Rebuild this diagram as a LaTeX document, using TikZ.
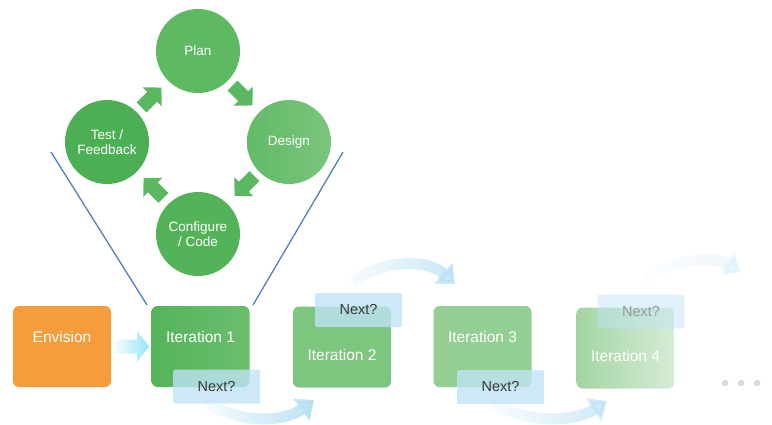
\documentclass[tikz,border=0pt]{standalone}
\usepackage{fontspec}
\setmainfont{Liberation Sans}
\usetikzlibrary{arrows.meta,calc,fadings}
\definecolor{gPlan}{HTML}{5DBA63}
\definecolor{gTest}{HTML}{4DAF53}
\definecolor{gConf}{HTML}{52B358}
\definecolor{gDesL}{HTML}{62BA66}
\definecolor{gDesR}{HTML}{7BC57D}
\definecolor{gArr}{HTML}{5BB860}
\definecolor{lineblue}{HTML}{4F81BD}
\definecolor{envor}{HTML}{F59C3C}
\definecolor{it1L}{HTML}{55B45A}
\definecolor{it1R}{HTML}{6BBE6D}
\definecolor{it2}{HTML}{7DC67F}
\definecolor{it3}{HTML}{93CE93}
\definecolor{it4L}{HTML}{A3D5A3}
\definecolor{it4R}{HTML}{D6ECD6}
\definecolor{nextblue}{HTML}{BFE4F7}
\definecolor{arrblue}{HTML}{B2DEF4}
\definecolor{dotgray}{HTML}{D3DCDF}
\tikzfading[name=tailfade, left color=transparent!92, right color=transparent!0]
\tikzset{
  circ/.style={circle, minimum size=84pt, inner sep=0pt, text=white, align=center,
    font=\fontsize{13.5}{15.5}\selectfont},
  box/.style={rectangle, rounded corners=6pt, minimum width=98pt, minimum height=81pt, inner sep=0pt},
  boxtext/.style={text=white, font=\fontsize{15.5}{18}\selectfont},
  nextbox/.style={rectangle, rounded corners=1.5pt, minimum width=87pt, minimum height=34pt, inner sep=0pt,
    fill=nextblue, fill opacity=0.78, text opacity=1, text=black!78, font=\fontsize{14.5}{17}\selectfont},
  funnel/.style={draw=lineblue, line width=1.3pt},
  curvearr/.style={draw=arrblue, line width=11pt, path fading=tailfade,
    -{Triangle[length=16pt,width=27pt]}},
  blockarr/.style={fill=gArr}
}
\newcommand{\greenarrow}[2]{%
  \fill[blockarr, shift={(#1)}, rotate=#2]
    (-14,-7) -- (1,-7) -- (1,-13.5) -- (14,0) -- (1,13.5) -- (1,7) -- (-14,7) -- cycle;}
\begin{document}
\begin{tikzpicture}[x=1pt,y=-1pt]
\useasboundingbox (0,0) rectangle (772,424);
\fill[white] (0,0) rectangle (772,424);

% funnel lines
\coordinate (fl) at (51,152);
\coordinate (fr) at (343,152);
\coordinate (fl2) at (147,305);
\coordinate (fr2) at (253,305);
\draw[funnel] (fl) -- (fl2);
\draw[funnel] (fr) -- (fr2);

% cycle circles
\node[circ, fill=gPlan] (plan) at (198,51) {Plan};
\node[circ, left color=gDesL, right color=gDesR] (design) at (289,142) {Design};
\node[circ, fill=gTest] (test) at (107,142) {Test /\\Feedback};
\node[circ, fill=gConf] (conf) at (198,234) {Configure\\/ Code};

% block arrows between circles
\greenarrow{$(test)!0.5!(plan)+(-1,1)$}{45}
\greenarrow{$(plan)!0.5!(design)+(-1,-1)$}{-45}
\greenarrow{$(design)!0.5!(conf)+(1,-2)$}{-135}
\greenarrow{$(conf)!0.5!(test)+(1,0)$}{135}

% curved arrows (behind boxes)
\coordinate (a1s) at (208,403);
\coordinate (a1e) at (314,400);
\coordinate (a2s) at (352,283);
\coordinate (a2e) at (455,284);
\coordinate (a3s) at (492,403);
\coordinate (a3e) at (607,401);
\coordinate (a4s) at (645,280);
\coordinate (a4e) at (741,272);
\begin{scope}[opacity=0.9]
\draw[curvearr] (a1s) .. controls (240,424) and (285,422) .. (a1e);
\end{scope}
\begin{scope}[opacity=0.75]
\draw[curvearr] (a2s) .. controls (378,261) and (425,257) .. (a2e);
\end{scope}
\begin{scope}[opacity=0.65]
\draw[curvearr] (a3s) .. controls (528,424) and (575,422) .. (a3e);
\end{scope}
\begin{scope}[opacity=0.25]
\draw[curvearr] (a4s) .. controls (670,260) and (712,255) .. (a4e);
\end{scope}

% boxes
\node[box, fill=envor] (env) at (62,346.5) {};
\node[boxtext] at ($(env.center)+(0,-9.5)$) {Envision};

\node[box, left color=it1L, right color=it1R] (it1) at (200.5,346.5) {};
\node[boxtext] at ($(it1.center)+(0,-9.5)$) {Iteration 1};

\node[box, fill=it2] (it2) at (342,347) {};
\node[boxtext] at ($(it2.center)+(0,8)$) {Iteration 2};

\node[box, fill=it3] (it3) at (482.5,346.5) {};
\node[boxtext] at ($(it3.center)+(0,-9.5)$) {Iteration 3};

\node[box, left color=it4L, right color=it4R] (it4) at (625.5,348) {};
\node[boxtext] at ($(it4.center)+(0,8)$) {Iteration 4};

% Envision -> Iteration 1 arrow
\shade[left color=white, right color=arrblue!85!cyan]
  (env.east) ++(2,-7) -- ++(24,0) -- ++(0,-8) -- ($(it1.west)+(-2,0)$)
  -- ($(env.east)+(26,15)$) -- ++(0,-8) -- ($(env.east)+(2,7)$) -- cycle;

% Next? boxes
\node[nextbox] (n1) at (216.5,386.5) {Next?};
\node[nextbox] (n2) at (358.5,310) {Next?};
\node[nextbox] (n3) at (500.5,387) {Next?};
\node[nextbox, fill opacity=0.45, text=black!40] (n4) at (641,311.5) {Next?};

% dots
\fill[dotgray] (725,383) circle (3.3pt) coordinate (d1);
\fill[dotgray] (741,383) circle (3.3pt) coordinate (d2);
\fill[dotgray] (757,383) circle (3.3pt) coordinate (d3);
\end{tikzpicture}
\end{document}
